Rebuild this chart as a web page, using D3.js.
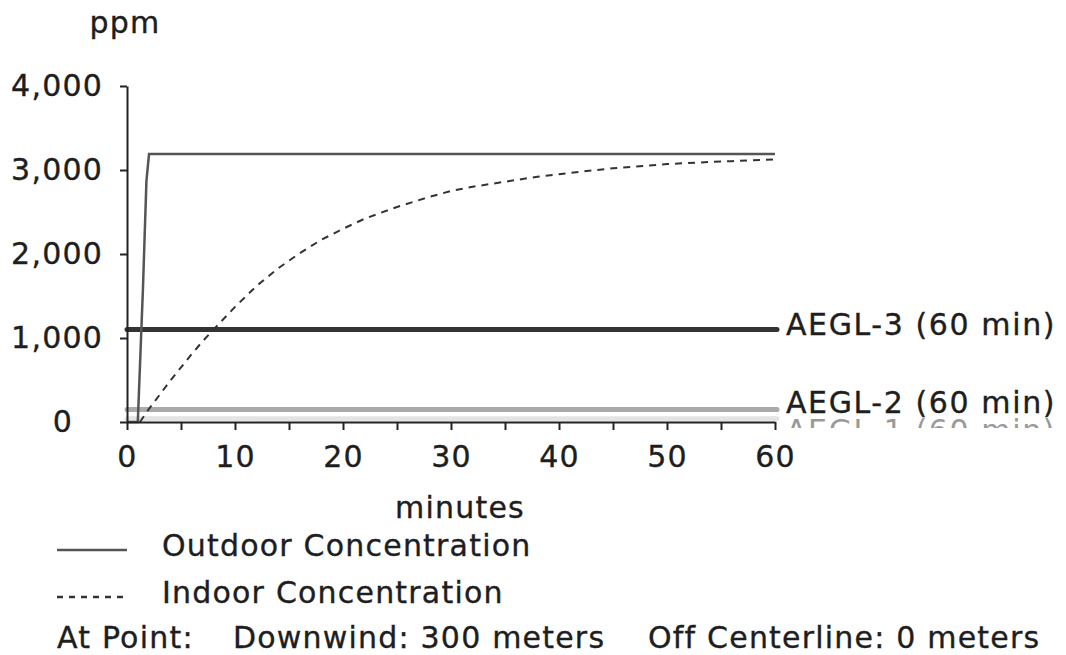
<!DOCTYPE html>
<html>
<head>
<meta charset="utf-8">
<script src="https://cdn.jsdelivr.net/npm/d3@7"></script>
<style>
  body { margin: 0; background: #fff; }
  svg text { font-family: "DejaVu Sans", Verdana, sans-serif; fill: #1e1e1e; letter-spacing: 1.2px;
             stroke: #1e1e1e; stroke-width: 0.35px; }
</style>
</head>
<body>
<script>
// outdoor concentration (ppm) vs minutes
var outdoorT = [0, 1.0, 1.3, 1.48, 1.64, 1.8, 2.04, 60];
var outdoorC = [0, 0, 1000, 1600, 2240, 2870, 3190, 3190];

// indoor concentration (ppm) vs minutes
var indoorT = [1.2, 2, 3, 4, 5, 6, 7, 8, 10, 12, 14, 16, 18, 20, 22, 25, 28, 30, 32, 35, 38, 40, 42, 45, 48, 50, 53, 56, 60];
var indoorC = [0, 150, 320, 490, 650, 810, 960, 1100, 1370, 1620, 1830, 2010, 2170, 2300, 2420, 2560, 2680, 2750, 2800, 2860, 2920, 2950, 2980, 3020, 3050, 3070, 3090, 3105, 3125];

// AEGL levels
var aeglNames = ["AEGL-3 (60 min)", "AEGL-2 (60 min)", "AEGL-1 (60 min)"];
var aeglValues = [1100, 150, 40];

var yTicks = [0, 1000, 2000, 3000, 4000];
var xTicks = [0, 5, 10, 15, 20, 25, 30, 35, 40, 45, 50, 55, 60];
var legendNames = ["Outdoor Concentration", "Indoor Concentration"];
var footParts = ["At Point:", "Downwind: 300 meters", "Off Centerline: 0 meters"];

var margin = {top: 86, left: 127}
    , width = 648
    , height = 336;

var svg = d3.select('body').append('svg').attr('width', 1066).attr('height', 655);
var main = svg.append('g')
    .attr('transform', 'translate(' + margin.left + ',' + margin.top + ')');

var x = d3.scaleLinear().domain([0, 60]).range([0, width]);
var y = d3.scaleLinear().domain([0, 4000]).range([height, 0]);

// AEGL lines
var aeglColors = ["#333", "#aaa", "#e4e4e4"];
main.selectAll('.aegl')
    .data(aeglValues)
    .enter().append('line')
    .attr('x1', 0)
    .attr('x2', x(60) + 2)
    .attr('y1', function (d) { return y(d); })
    .attr('y2', function (d) { return y(d); })
    .attr('stroke', function (d, i) { return aeglColors[i]; })
    .attr('stroke-width', 5)
    .attr('stroke-linecap', 'round');

var line = d3.line()
    .x(function (d) { return x(d[0]); })
    .y(function (d) { return y(d[1]); });

// outdoor
main.append('path')
    .datum(outdoorT.map(function (t, i) { return [t, outdoorC[i]]; }))
    .attr('d', line)
    .attr('fill', 'none')
    .attr('stroke', '#555')
    .attr('stroke-width', 2.5);

// indoor
main.append('path')
    .datum(indoorT.map(function (t, i) { return [t, indoorC[i]]; }))
    .attr('d', line)
    .attr('fill', 'none')
    .attr('stroke', '#333')
    .attr('stroke-width', 2)
    .attr('stroke-dasharray', '7,6');

// axes
var yAxis = d3.axisLeft(y)
    .tickValues(yTicks)
    .tickSize(7)
    .tickSizeOuter(0)
    .tickPadding(17)
    .tickFormat(d3.format(','));
var xAxis = d3.axisBottom(x)
    .tickValues(xTicks)
    .tickSize(8)
    .tickSizeOuter(0)
    .tickPadding(16)
    .tickFormat(function (d) { return d % 10 === 0 ? d : ''; });

var gy = main.append('g').call(yAxis);
var gx = main.append('g').attr('transform', 'translate(0,' + height + ')').call(xAxis);

[gx, gy].forEach(function (g) {
    g.selectAll('path, line').attr('stroke', '#222').attr('stroke-width', 2);
    g.selectAll('text').attr('font-size', 30).attr('fill', null);
    g.attr('font-family', null).attr('font-size', null);
});
// the "0" on the y axis sits further left in the original
gy.selectAll('.tick').filter(function (d) { return d === 0; }).select('text').attr('x', -54);

// axis titles
svg.append('text').attr('x', 125).attr('y', 33).attr('text-anchor', 'middle')
    .attr('font-size', 30).text('ppm');
svg.append('text').attr('x', 460).attr('y', 518).attr('text-anchor', 'middle')
    .attr('font-size', 30).text('minutes');

// AEGL labels
var labelY = [335, 413, 441];
svg.append('clipPath').attr('id', 'cut').append('rect')
    .attr('x', 0).attr('y', 0).attr('width', 1066).attr('height', 428);
svg.selectAll('.aegl-label')
    .data(aeglNames)
    .enter().append('text')
    .attr('x', 786)
    .attr('y', function (d, i) { return labelY[i]; })
    .attr('font-size', 30)
    .style('letter-spacing', '1.6px')
    .attr('clip-path', function (d, i) { return i === 2 ? 'url(#cut)' : null; })
    .style('fill', function (d, i) { return i === 2 ? '#999' : null; })
    .style('stroke', function (d, i) { return i === 2 ? 'none' : null; })
    .text(function (d) { return d; });

// legend
var legY = [550, 597];
var leg = svg.selectAll('.leg').data(legendNames).enter().append('g');
leg.append('line')
    .attr('x1', 57).attr('x2', 127)
    .attr('y1', function (d, i) { return legY[i]; })
    .attr('y2', function (d, i) { return legY[i]; })
    .attr('stroke', function (d, i) { return i === 0 ? '#555' : '#333'; })
    .attr('stroke-width', 2.5)
    .attr('stroke-dasharray', function (d, i) { return i === 1 ? '6,6' : null; });
leg.append('text')
    .attr('x', 162)
    .attr('y', function (d, i) { return legY[i] + 6; })
    .attr('font-size', 30)
    .text(function (d) { return d; });

// footer
var footX = [57, 233, 648];
svg.selectAll('.foot').data(footParts).enter().append('text')
    .attr('x', function (d, i) { return footX[i]; })
    .attr('y', 648)
    .attr('font-size', 30)
    .text(function (d) { return d; });
</script>
</body>
</html>
